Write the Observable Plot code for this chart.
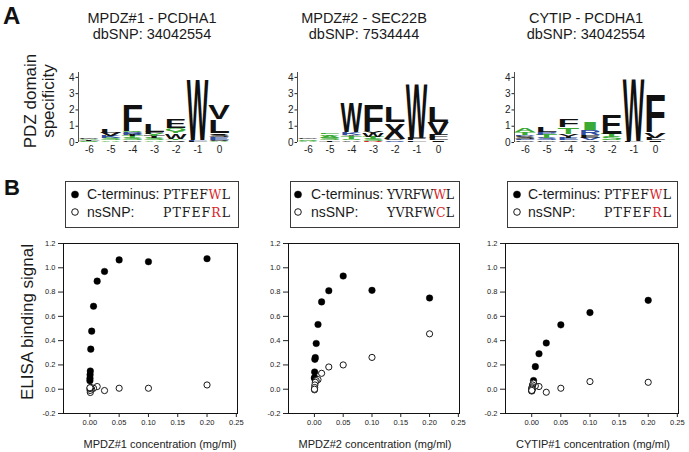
<!DOCTYPE html>
<html>
<head>
<meta charset="utf-8">
<script src="https://cdn.jsdelivr.net/npm/d3@7"></script>
<script src="https://cdn.jsdelivr.net/npm/@observablehq/plot@0.6"></script>
<style>
  body { margin: 0; background: #fff; }
  #fig { position: relative; width: 689px; height: 452px; overflow: hidden; background: #fff;
         font-family: "Liberation Sans", Arial, sans-serif; }
  #fig > div { position: absolute; }
  #overlay { position: absolute; left: 0; top: 0; pointer-events: none; }
</style>
</head>
<body>
<div id="fig"></div>
<script>
// ---------------- DATA ----------------
const panelTitles = ["MPDZ#1 - PCDHA1", "MPDZ#2 - SEC22B", "CYTIP - PCDHA1"];
const panelSNPs = ["dbSNP: 34042554", "dbSNP: 7534444", "dbSNP: 34042554"];
const logoPositions = [-6, -5, -4, -3, -2, -1, 0];
const logoTicksY = [0, 1, 2, 3, 4];

// sequence logos: [position, residue, bits, colour key] stacked bottom -> top
const logo1 = [
  [-6,"S",0.06,"g"],[-6,"T",0.06,"k"],[-6,"A",0.07,"g"],[-6,"G",0.07,"k"],
  [-5,"A",0.1,"g"],[-5,"S",0.12,"g"],[-5,"K",0.12,"b"],[-5,"V",0.2,"k"],[-5,"L",0.2,"k"],
  [-4,"G",0.1,"k"],[-4,"S",0.12,"g"],[-4,"T",0.12,"g"],[-4,"Y",0.12,"k"],[-4,"R",0.14,"b"],[-4,"Q",0.1,"g"],[-4,"F",1.65,"k"],
  [-3,"A",0.1,"g"],[-3,"S",0.12,"g"],[-3,"T",0.12,"k"],[-3,"Y",0.15,"g"],[-3,"F",0.12,"k"],[-3,"L",0.45,"k"],
  [-2,"S",0.1,"k"],[-2,"T",0.1,"g"],[-2,"W",0.35,"k"],[-2,"Y",0.15,"g"],[-2,"Q",0.15,"g"],[-2,"E",0.6,"k"],
  [-1,"L",0.05,"k"],[-1,"F",0.05,"b"],[-1,"W",3.85,"k"],
  [0,"A",0.05,"g"],[0,"S",0.1,"k"],[0,"E",0.15,"b"],[0,"S",0.15,"k"],[0,"I",0.1,"k"],[0,"L",0.85,"k"],[0,"V",0.9,"k"]
];
const logo2 = [
  [-6,"A",0.08,"g"],[-6,"S",0.1,"g"],[-6,"G",0.1,"k"],
  [-5,"T",0.1,"k"],[-5,"S",0.12,"g"],[-5,"A",0.15,"g"],[-5,"G",0.1,"g"],[-5,"E",0.1,"g"],
  [-4,"A",0.1,"k"],[-4,"S",0.1,"g"],[-4,"T",0.15,"g"],[-4,"Y",0.1,"k"],[-4,"K",0.15,"b"],[-4,"W",1.85,"k"],
  [-3,"R",0.08,"r"],[-3,"S",0.12,"g"],[-3,"T",0.12,"g"],[-3,"W",0.2,"k"],[-3,"Y",0.15,"k"],[-3,"F",1.6,"k"],
  [-2,"S",0.1,"b"],[-2,"G",0.1,"k"],[-2,"X",1.0,"k"],[-2,"L",1.0,"k"],
  [-1,"L",0.1,"k"],[-1,"F",0.15,"k"],[-1,"W",3.45,"k"],
  [0,"I",0.1,"k"],[0,"L",0.15,"k"],[0,"F",0.2,"k"],[0,"V",0.8,"k"],[0,"L",1.0,"k"]
];
const logo3 = [
  [-6,"G",0.1,"k"],[-6,"E",0.1,"b"],[-6,"S",0.15,"k"],[-6,"D",0.1,"b"],[-6,"T",0.15,"g"],[-6,"A",0.2,"g"],
  [-5,"G",0.1,"k"],[-5,"S",0.15,"b"],[-5,"T",0.2,"g"],[-5,"P",0.15,"b"],[-5,"L",0.3,"k"],
  [-4,"S",0.1,"k"],[-4,"E",0.15,"b"],[-4,"Y",0.25,"k"],[-4,"T",0.4,"g"],[-4,"F",0.45,"k"],
  [-3,"S",0.1,"k"],[-3,"V",0.15,"b"],[-3,"E",0.15,"k"],[-3,"R",0.35,"b"],[-3,"I",0.5,"g"],
  [-2,"G",0.1,"k"],[-2,"S",0.2,"g"],[-2,"T",0.2,"g"],[-2,"E",1.2,"k"],
  [-1,"L",0.05,"k"],[-1,"W",3.95,"k"],
  [0,"I",0.1,"k"],[0,"L",0.15,"k"],[0,"V",0.35,"k"],[0,"F",2.4,"k"]
];
const residueColors = { k: "#111111", g: "#3aaa35", b: "#2f4ea0", r: "#d22a2a" };

// ELISA titrations
const conc = [0.2, 0.1, 0.05, 0.025, 0.0125, 0.00625, 0.003125, 0.0015625, 0.00078, 0.00039, 0.0002, 0.0001];
const wt1  = [1.075, 1.05, 1.065, 0.97, 0.89, 0.683, 0.478, 0.33, 0.15, 0.12, 0.09, 0.07];
const snp1 = [0.035, 0.008, 0.008, -0.011, 0.022, 0.008, 0.0, 0.015, -0.027, -0.01, 0.005, 0.012];
const wt2  = [0.751, 0.814, 0.932, 0.811, 0.719, 0.533, 0.377, 0.26, 0.246, 0.142, 0.096, 0.09];
const snp2 = [0.456, 0.262, 0.2, 0.183, 0.131, 0.079, 0.07, 0.057, 0.035, 0.014, -0.005, 0.0];
const wt3  = [0.732, 0.631, 0.53, 0.38, 0.292, 0.186, 0.071, 0.035, 0.01, -0.005, -0.01, -0.015];
const snp3 = [0.057, 0.063, 0.008, -0.025, 0.022, 0.027, 0.05, 0.035, 0.02, 0.01, 0.0, -0.01];

const xTicks = [0, 0.05, 0.1, 0.15, 0.2, 0.25];
const yTicks = [-0.2, 0, 0.2, 0.4, 0.6, 0.8, 1.0, 1.2];
const xTitles = ["MPDZ#1 concentration (mg/ml)", "MPDZ#2 concentration (mg/ml)", "CYTIP#1 concentration (mg/ml)"];
const yTitle = "ELISA binding signal";
const logoYTitle = ["PDZ domain", "specificity"];
const legendLabels = ["C-terminus:", "nsSNP:"];
const wtSeqs = ["PTFEFWL", "YVRFWWL", "PTFEFWL"];
const snpSeqs = ["PTFEFRL", "YVRFWCL", "PTFEFRL"];
const mutIndex = 5;
const panelLetters = ["A", "B"];

// ---------------- DRAWING ----------------
const fig = document.getElementById("fig");
const svgNS = "http://www.w3.org/2000/svg";
function place(el, left, top) {
  const d = document.createElement("div");
  d.style.left = left + "px"; d.style.top = top + "px";
  d.appendChild(el); fig.appendChild(d); return el;
}

// Sequence logos: a rect mark lays out each residue box via Plot's scales,
// then each box is filled by a letter glyph stretched to the box.
function logoPlot(rows, mL, mR) {
  const cum = {};
  const items = rows.map(([pos, letter, bits, col]) => {
    const y1 = cum[pos] || 0; const y2 = y1 + bits; cum[pos] = y2;
    return { x1: pos - 0.5, x2: pos + 0.5, y1, y2, bits, letter, color: residueColors[col] };
  });
  const svg = Plot.plot({
    width: mL + 152 + mR, height: 98,
    marginLeft: mL, marginRight: mR, marginTop: 10, marginBottom: 18,
    x: { domain: [-6.5, 0.5] }, y: { domain: [0, 4.3] },
    style: { fontFamily: "Liberation Sans, Arial, sans-serif", color: "#222", background: "transparent", overflow: "visible" },
    marks: [
      Plot.rect(items, { x1: "x1", x2: "x2", y1: "y1", y2: "y2", fill: "none" }),
      Plot.ruleX([-6.5], { stroke: "#222", strokeWidth: 0.8 }),
      Plot.axisY(logoTicksY, { tickSize: 2.5, tickPadding: 1.5, fontSize: 10, tickFormat: d => String(d), label: null }),
      Plot.axisX(logoPositions, { tickSize: 0, tickPadding: 3, fontSize: 10, tickFormat: d => String(d), label: null })
    ]
  });
  return { svg, items };
}
function drawGlyphs(svg, items) {
  const group = svg.querySelector('g[aria-label="rect"]');
  if (!group) return;
  const rects = group.querySelectorAll('rect');
  rects.forEach((r, i) => {
    const it = items[i];
    if (!it) return;
    const x = +r.getAttribute("x"), y = +r.getAttribute("y");
    const w = +r.getAttribute("width"), h = +r.getAttribute("height");
    const t = document.createElementNS(svgNS, "text");
    t.textContent = it.letter;
    t.setAttribute("font-family", "Liberation Sans, Arial, sans-serif");
    t.setAttribute("font-weight", "bold");
    t.setAttribute("font-size", "100");
    t.setAttribute("text-anchor", "middle");
    t.setAttribute("fill", it.color);
    t.setAttribute("stroke", "none");
    group.appendChild(t);
    const bw = t.getBBox().width || 70;
    t.setAttribute("transform", `translate(${x + w / 2},${y + h}) scale(${w / bw},${h / 72})`);
  });
}
const logoLayout = [
  { rows: logo1, left: 40, mL: 38, mR: 5 },
  { rows: logo2, left: 258, mL: 39, mR: 4 },
  { rows: logo3, left: 476, mL: 38, mR: 5 }
];
logoLayout.forEach(L => {
  const { svg, items } = logoPlot(L.rows, L.mL, L.mR);
  place(svg, L.left, 62);
  drawGlyphs(svg, items);
});

// Scatter plots
function scatter(wt, snp, fw) {
  const wtData = conc.map((c, i) => ({ c, v: wt[i] }));
  const snpData = conc.map((c, i) => ({ c, v: snp[i] }));
  return Plot.plot({
    width: 38 + fw + 6, height: 199,
    marginLeft: 38, marginRight: 6, marginTop: 7, marginBottom: 22,
    x: { domain: [-0.045, 0.252] }, y: { domain: [-0.2, 1.2] },
    style: { fontFamily: "Liberation Sans, Arial, sans-serif", color: "#222", background: "transparent", overflow: "visible" },
    marks: [
      Plot.frame({ stroke: "#111", strokeWidth: 1 }),
      Plot.axisX(xTicks, { tickSize: 4, tickPadding: 2, fontSize: 7.5, tickFormat: d => d.toFixed(2), label: null }),
      Plot.axisY(yTicks, { tickSize: 5, tickPadding: 3, fontSize: 7.5, tickFormat: d => d.toFixed(1), label: null }),
      Plot.dot(wtData, { x: "c", y: "v", r: 3.3, fill: "#000", stroke: "#000", strokeWidth: 0.4 }),
      Plot.dot(snpData, { x: "c", y: "v", r: 3.1, fill: "#fff", stroke: "#000", strokeWidth: 0.9 })
    ]
  });
}
const scatterLayout = [
  { wt: wt1, snp: snp1, left: 25, fw: 174 },
  { wt: wt2, snp: snp2, left: 250, fw: 171 },
  { wt: wt3, snp: snp3, left: 467, fw: 173 }
];
scatterLayout.forEach(S => place(scatter(S.wt, S.snp, S.fw), S.left, 236));

// Overlay: titles, labels, legends
const ov = document.createElementNS(svgNS, "svg");
ov.setAttribute("id", "overlay");
ov.setAttribute("width", 689); ov.setAttribute("height", 452);
fig.appendChild(ov);
function txt(s, x, y, attrs = {}) {
  const t = document.createElementNS(svgNS, "text");
  t.textContent = s;
  t.setAttribute("x", x); t.setAttribute("y", y);
  t.setAttribute("font-family", "Liberation Sans, Arial, sans-serif");
  t.setAttribute("fill", "#1a1a1a");
  for (const k in attrs) t.setAttribute(k, attrs[k]);
  ov.appendChild(t); return t;
}
txt(panelLetters[0], 3, 23.5, { "font-size": 24, "font-weight": "bold", fill: "#111" });
txt(panelLetters[1], 4, 194.5, { "font-size": 22, "font-weight": "bold", fill: "#111" });

const titleX = [152, 364, 586];
panelTitles.forEach((s, i) => {
  txt(s, titleX[i], 22.5, { "font-size": 14.5, "text-anchor": "middle" });
  txt(panelSNPs[i], titleX[i], 38.5, { "font-size": 14.5, "text-anchor": "middle" });
});

// logo y title (two lines, rotated)
txt(logoYTitle[0], 0, 0, { "font-size": 17, "text-anchor": "middle", transform: "translate(36,101) rotate(-90)" });
txt(logoYTitle[1], 0, 0, { "font-size": 17, "text-anchor": "middle", transform: "translate(54,101) rotate(-90)" });
// scatter y title
txt(yTitle, 0, 0, { "font-size": 17, "text-anchor": "middle", transform: "translate(33,322) rotate(-90)" });
// x titles
const xTitleX = [160, 375, 593];
xTitles.forEach((s, i) => txt(s, xTitleX[i], 447.5, { "font-size": 11, "text-anchor": "middle", fill: "#222" }));

// legends
const legendLayout = [
  { box: [65, 181.5, 173, 46], dot: 75, label: 87, seq: 163 },
  { box: [290, 181.5, 169, 46], dot: 298, label: 311, seq: 387 },
  { box: [507, 181.5, 170, 46], dot: 517, label: 528, seq: 604 }
];
const rowY = [199.3, 216.8];
const dotY = [194.5, 212];
function seqText(seq, x, y) {
  const t = document.createElementNS(svgNS, "text");
  t.setAttribute("x", x); t.setAttribute("y", y);
  t.setAttribute("font-family", "DejaVu Serif, serif");
  t.setAttribute("font-size", 12.5);
  t.setAttribute("textLength", 67);
  t.setAttribute("lengthAdjust", "spacing");
  [...seq].forEach((ch, k) => {
    const sp = document.createElementNS(svgNS, "tspan");
    sp.textContent = ch;
    sp.setAttribute("fill", k === mutIndex ? "#d7262b" : "#1a1a1a");
    t.appendChild(sp);
  });
  ov.appendChild(t);
}
legendLayout.forEach((L, i) => {
  const r = document.createElementNS(svgNS, "rect");
  r.setAttribute("x", L.box[0] + 0.5); r.setAttribute("y", L.box[1]);
  r.setAttribute("width", L.box[2]); r.setAttribute("height", L.box[3]);
  r.setAttribute("fill", "none"); r.setAttribute("stroke", "#3a3a3a"); r.setAttribute("stroke-width", 1);
  ov.appendChild(r);
  [0, 1].forEach(j => {
    const c = document.createElementNS(svgNS, "circle");
    c.setAttribute("cx", L.dot); c.setAttribute("cy", dotY[j]); c.setAttribute("r", j === 0 ? 3.6 : 3.3);
    c.setAttribute("fill", j === 0 ? "#000" : "#fff"); c.setAttribute("stroke", "#000");
    c.setAttribute("stroke-width", j === 0 ? 0.4 : 0.9);
    ov.appendChild(c);
    txt(legendLabels[j], L.label, rowY[j], { "font-size": 14 });
  });
  seqText(wtSeqs[i], L.seq, rowY[0]);
  seqText(snpSeqs[i], L.seq, rowY[1]);
});
</script>
</body>
</html>
